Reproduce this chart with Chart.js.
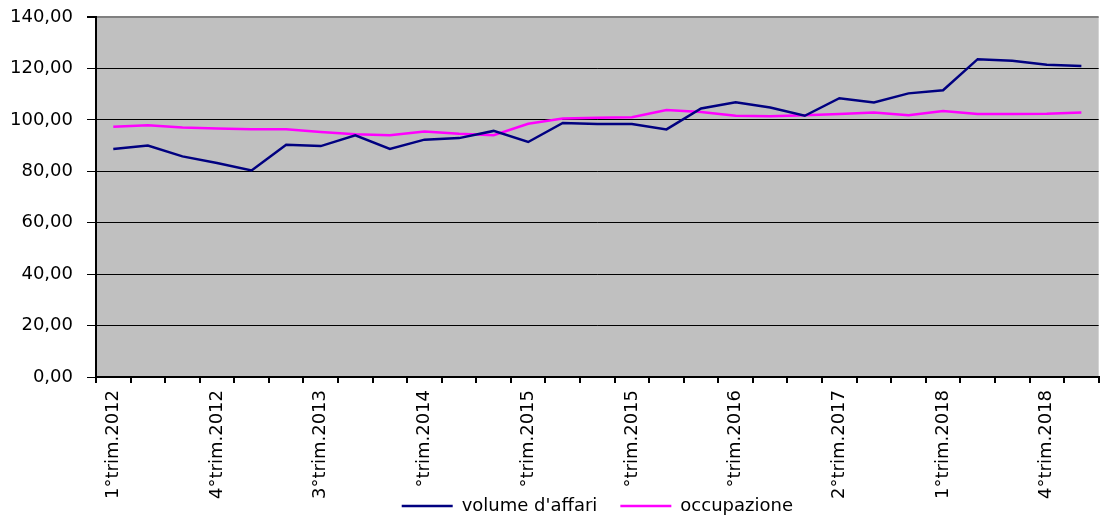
<!DOCTYPE html>
<html>
<head>
<meta charset="utf-8">
<script src="https://cdn.jsdelivr.net/npm/chart.js@4/dist/chart.umd.min.js"></script>
<style>
  html, body { margin: 0; padding: 0; background: #ffffff; overflow: hidden; }
  #wrap { position: relative; width: 1110px; height: 540px; }
</style>
</head>
<body>
<div id="wrap"><canvas id="c"></canvas></div>
<script>
const categories = [
  "1°trim.2012","2°trim.2012","3°trim.2012","4°trim.2012",
  "1°trim.2013","2°trim.2013","3°trim.2013","4°trim.2013",
  "1°trim.2014","2°trim.2014","3°trim.2014","4°trim.2014",
  "1°trim.2015","2°trim.2015","3°trim.2015","4°trim.2015",
  "1°trim.2016","2°trim.2016","3°trim.2016","4°trim.2016",
  "1°trim.2017","2°trim.2017","3°trim.2017","4°trim.2017",
  "1°trim.2018","2°trim.2018","3°trim.2018","4°trim.2018",
  "1°trim.2019"
];
const tickLabels = [
  "1°trim.2012","","","4°trim.2012","","","3°trim.2013","","","°trim.2014",
  "","","°trim.2015","","","°trim.2015","","","°trim.2016","","",
  "2°trim.2017","","","1°trim.2018","","","4°trim.2018",""
];
const volumeAffari = [88.7, 90.0, 85.8, 83.2, 80.3, 90.3, 89.8, 94.0, 88.7, 92.3,
  92.9, 95.7, 91.4, 98.8, 98.4, 98.4, 96.3, 104.4, 106.8, 104.8,
  101.6, 108.4, 106.8, 110.3, 111.5, 123.6, 123.0, 121.4, 120.9];
const occupazione = [97.3, 97.9, 97.0, 96.6, 96.3, 96.3, 95.3, 94.4, 94.0, 95.5,
  94.6, 94.0, 98.5, 100.5, 100.8, 101.0, 103.8, 103.1, 101.6, 101.4,
  101.8, 102.3, 102.9, 101.8, 103.4, 102.3, 102.3, 102.4, 102.9];
const seriesNames = ["volume d'affari", "occupazione"];
const yMin = 0, yMax = 140, yStep = 20;

const FONT = "'DejaVu Sans', sans-serif";

const plotBg = {
  id: 'plotBg',
  beforeDraw(chart) {
    const {ctx, chartArea: a} = chart;
    ctx.save();
    ctx.fillStyle = '#c0c0c0';
    ctx.fillRect(a.left, a.top, a.right - a.left, a.bottom - a.top);
    ctx.restore();
  }
};

new Chart(document.getElementById('c'), {
  type: 'line',
  data: {
    labels: categories,
    datasets: [
      { label: seriesNames[0], data: volumeAffari, borderColor: '#000080', backgroundColor: '#000080',
        borderWidth: 2.5, pointRadius: 0, pointHoverRadius: 0, tension: 0, fill: false, pointStyle: 'line' },
      { label: seriesNames[1], data: occupazione, borderColor: '#ff00ff', backgroundColor: '#ff00ff',
        borderWidth: 2.5, pointRadius: 0, pointHoverRadius: 0, tension: 0, fill: false, pointStyle: 'line' }
    ]
  },
  options: {
    responsive: true,
    maintainAspectRatio: false,
    animation: false,
    devicePixelRatio: 1,
    layout: { padding: { left: 0, right: 1, top: 17, bottom: 15 } },
    plugins: {
      tooltip: { enabled: false },
      legend: {
        position: 'bottom',
        fullSize: false,
        labels: {
          usePointStyle: true,
          pointStyle: 'line',
          pointStyleWidth: 51,
          padding: 23,
          color: '#000',
          font: { family: FONT, size: 18 }
        }
      }
    },
    scales: {
      x: {
        type: 'category',
        offset: true,
        grid: { offset: true, drawOnChartArea: false, drawTicks: true, tickLength: 6, color: '#000', lineWidth: 2 },
        border: { display: true, color: '#000', width: 2 },
        ticks: {
          autoSkip: false, maxRotation: 90, minRotation: 90, padding: 7,
          color: '#000', font: { family: FONT, size: 18 },
          callback: (v, i) => tickLabels[i]
        },
        afterFit: s => { s.height = 97; s._computeLabelArea = () => undefined; }
      },
      y: {
        min: yMin, max: yMax,
        ticks: {
          stepSize: yStep, padding: 14, color: '#000',
          font: { family: FONT, size: 18 },
          callback: v => v.toFixed(2).replace('.', ',')
        },
        grid: {
          color: c => (c.tick && c.tick.value === yMax) ? '#808080' : '#000',
          lineWidth: c => (c.tick && c.tick.value === yMax) ? 2 : 1,
          tickColor: '#000', tickLength: 9, drawTicks: true
        },
        border: { display: true, color: '#000', width: 2 },
        afterFit: s => { s.width = 96; s.paddingTop = 0; s.paddingBottom = 0; }
      }
    }
  },
  plugins: [plotBg]
});
</script>
</body>
</html>
